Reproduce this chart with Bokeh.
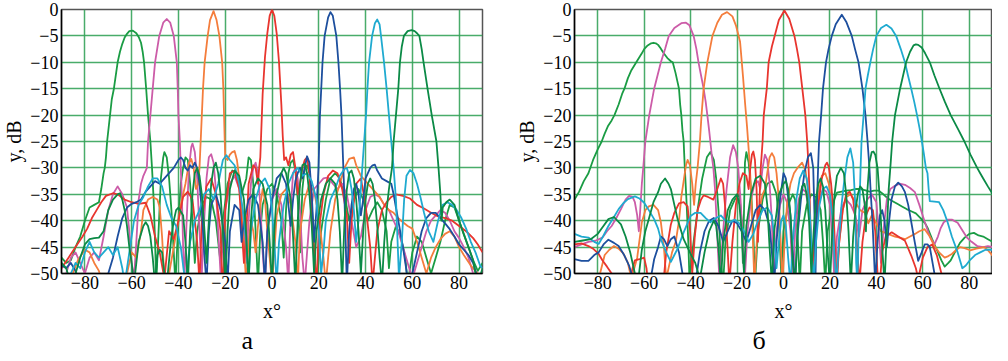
import math
from bokeh.plotting import figure
from bokeh.layouts import row
from bokeh.models import FixedTicker, Range1d, Title, CustomJSTickFormatter
from bokeh.embed import file_html
from bokeh.resources import INLINE

X_TICKS = [-80, -60, -40, -20, 0, 20, 40, 60, 80]
X_TICK_LABELS = ["\u221280", "\u221260", "\u221240", "\u221220", "0", "20", "40", "60", "80"]
Y_TICKS = [0, -5, -10, -15, -20, -25, -30, -35, -40, -45, -50]
Y_TICK_LABELS = ["0", "\u22125", "\u221210", "\u221215", "\u221220", "\u221225", "\u221230",
                 "\u221235", "\u221240", "\u221245", "\u221250"]
X_LABEL = "x\u00b0"
Y_LABEL = "y, dB"
PANEL_LABELS = ["\u0430", "\u0431"]

# ---------------- panel a : (angle deg, level dB) ----------------
A_GREEN1 = [(-90,-47),(-88,-48),(-86,-47.5),(-84,-45),(-82,-43),(-80,-40),(-78,-37.5),(-76,-37),(-74,-36.5),(-73,-34),(-72,-31),(-71.5,-30),(-71,-28),(-70.5,-25),(-69.5,-21),(-68.5,-17),(-67.6,-15),(-66,-10),(-65,-8),(-64,-6.5),(-63,-5.3),(-62,-4.6),(-61,-4.1),(-59.5,-4),(-58,-4.5),(-57,-5.2),(-56,-6.3),(-55.3,-8),(-54.7,-10),(-53.8,-15),(-53,-20),(-52,-25),(-51.3,-30),(-50.6,-36),(-50,-44),(-49.5,-52),(-48.5,-42),(-47.5,-32),(-46.5,-28),(-46,-27),(-45,-28),(-44,-32),(-43,-38),(-42,-46),(-41.3,-52),(-40,-40),(-39,-33),(-38,-30),(-37,-28),(-36,-28.5),(-35,-33),(-34,-40),(-33,-48),(-32,-42),(-30,-37),(-28,-35.5),(-26,-36),(-24,-40),(-22,-48),(-21,-40),(-19,-33),(-17,-30.5),(-15,-31),(-13,-35),(-11,-32),(-10,-28),(-9,-28.5),(-8,-33),(-7,-42),(-6,-52),(-5,-42),(-4,-37),(-2,-34),(0,-33),(2,-35),(4,-40),(5,-47),(6,-38),(7,-31),(8,-29),(9,-28.5),(10,-30.5),(11,-36),(12,-46),(13,-34),(14,-30),(15,-29.5),(16,-31),(17,-37),(18,-45),(19,-52),(21,-42),(23,-36),(25,-32),(27,-31),(29,-32),(31,-35),(33,-40),(35,-36),(37,-34),(39,-36),(41,-40),(43,-38),(45,-36.5),(47,-38),(49,-42),(50,-49),(51,-44),(53,-41),(55,-43),(57,-47),(58,-52),(60,-46),(62,-43),(64,-44),(66,-47),(68,-50),(70,-47),(72,-44),(74,-40),(76,-37),(78,-37.5),(80,-40),(82,-42.5),(84,-45),(86,-47.5),(88,-49.5),(90,-48)]

A_MAGENTA = [(-90,-52),(-88,-50),(-86,-47),(-84,-46),(-82,-48),(-80,-50),(-78,-47),(-76,-46),(-74,-47.5),(-72,-43),(-70,-38),(-68,-35),(-66,-33.5),(-64,-35),(-62,-37.5),(-61,-42),(-60,-48),(-59,-51),(-58,-44),(-57,-36),(-56,-33),(-55,-31.5),(-54,-30.5),(-53.5,-30),(-53,-25),(-52,-20),(-51,-15),(-50,-10),(-48.2,-5),(-46.5,-2.5),(-45,-1.8),(-43.5,-2.5),(-42,-5),(-40.7,-10),(-40.3,-15),(-40,-20),(-39.4,-25),(-39,-30),(-38.5,-36),(-38,-45),(-37.5,-52),(-36.5,-40),(-35.5,-30),(-34.5,-26),(-34,-25.4),(-33,-27),(-32,-32),(-31,-42),(-30,-50),(-29,-40),(-28,-32),(-27,-28),(-26,-27.4),(-25,-29),(-24,-34),(-23,-42),(-22,-50),(-20,-38),(-18,-33),(-16,-31.5),(-14,-34),(-12,-40),(-11,-48),(-10,-40),(-9,-33),(-8,-30),(-7,-29),(-6,-31),(-5,-37),(-4,-46),(-3,-52),(-2,-42),(0,-36),(2,-34),(4,-37),(6,-45),(7,-52),(8,-38),(9,-31),(10,-30),(11,-32),(12,-38),(13,-47),(14,-52),(16,-40),(18,-34),(20,-33),(22,-32),(24,-31.8),(26,-33),(28,-34),(30,-33),(32,-35),(34,-40),(36,-45),(38,-43),(40,-38),(42,-35.5),(44,-35),(46,-35.5),(48,-37),(50,-38),(52,-40),(54,-42),(56,-45),(58,-48),(60,-51),(62,-48),(64,-45),(66,-42),(68,-40),(70,-39),(72,-38),(74,-38.5),(76,-40),(78,-42),(80,-43.3),(82,-45),(84,-47),(86,-50),(88,-52),(90,-51)]

A_ORANGE = [(-90,-52),(-86,-51),(-83,-47.5),(-80,-45.5),(-78,-46),(-76,-48),(-74,-49.5),(-72,-53),(-66,-55),(-62,-50),(-60,-46),(-58,-47),(-56,-42),(-55,-38),(-53,-36),(-51,-35.5),(-49,-36),(-48,-37.5),(-47,-43),(-46,-51),(-44,-50),(-42,-45),(-40,-40),(-39,-37),(-37,-33),(-35.5,-29),(-34.5,-28.3),(-33.5,-30),(-32.5,-34),(-31.5,-33),(-31,-30),(-30.5,-25),(-30,-20),(-29.5,-15),(-28.8,-10),(-27.5,-5),(-26.5,-2),(-25,-0.3),(-23.7,-2),(-22.5,-5),(-21.3,-10),(-20.8,-15),(-20.5,-20),(-20.2,-25),(-20,-28),(-19,-28.5),(-18,-27.5),(-17,-27),(-16,-26.8),(-15,-28.5),(-14,-32),(-13,-38),(-12,-45),(-11,-52),(-10,-44),(-9,-40),(-8,-42),(-7,-46),(-6,-41),(-5,-37),(-4,-34),(-3,-36),(-2,-42),(-1,-47),(0,-52),(1,-46),(2,-39),(4,-35),(6,-34),(8,-37),(10,-44),(11,-52),(12,-42),(14,-36),(16,-33),(18,-34.5),(20,-39),(22,-47),(23,-52),(25,-42),(27,-36),(29,-33),(31,-30),(33,-28.3),(35,-28),(36,-29.5),(38,-31.5),(40,-32.5),(42,-33.5),(44,-34.5),(46,-35.5),(48,-37),(50,-38),(52,-38.5),(54,-39.5),(56,-40.3),(58,-41),(60,-41.5),(62,-44),(64,-47),(66,-50),(68,-47),(70,-45),(72,-43.5),(74,-42.5),(76,-42),(78,-43),(80,-45),(82,-46.5),(85,-48.5),(88,-50),(90,-51)]

A_RED = [(-90,-49),(-87,-47),(-84,-45),(-81,-43),(-79,-41.5),(-77,-39.5),(-75,-38),(-73,-36.5),(-71,-35.3),(-68,-34.8),(-66,-35),(-63,-36),(-60,-36.5),(-57,-36.8),(-54,-36.6),(-52,-39),(-50,-43),(-48,-46),(-46,-51),(-44,-42),(-42,-43.5),(-40,-40),(-38,-35.5),(-36,-34.5),(-34,-36),(-32,-44),(-31,-52),(-30,-40),(-28,-33.5),(-26,-32),(-24,-35),(-22,-42),(-21,-55),(-20,-38),(-18,-31),(-16,-30.5),(-14,-34),(-12,-48),(-11,-42),(-10,-33),(-8,-29.5),(-7,-30),(-6,-33),(-5.5,-30),(-5,-28),(-4.5,-22),(-4,-16),(-3,-9),(-2,-4.5),(-1,-1.2),(0,0),(1,-1.2),(2,-4.5),(3,-10),(4,-18),(4.6,-24),(5.2,-28.5),(6,-28),(7,-29.5),(8,-27.5),(9,-27),(10,-30),(11,-35),(12,-33),(13,-30),(14,-28.5),(15,-28),(16,-31),(17,-38),(18,-46),(19,-52),(20,-42),(22,-35),(24,-31.5),(26,-30.5),(28,-31),(30,-34),(32,-39),(33,-48),(34,-40),(36,-33),(38,-32),(40,-37),(42,-45),(43,-52),(45,-42),(47,-38),(49,-36.5),(51,-35.5),(53,-35),(56,-35.3),(59,-35.8),(62,-37),(65,-37.7),(68,-38.5),(71,-39.2),(74,-39.5),(77,-40),(80,-41),(83,-42),(86,-43.3),(88,-44.5),(90,-46)]

A_BLUE = [(-90,-48.5),(-88,-49),(-86,-48),(-84,-49.5),(-82,-52),(-72,-53),(-70,-50),(-68,-47),(-66,-43),(-64,-39.5),(-62,-37.5),(-60,-36.8),(-58,-36.5),(-56,-36),(-54,-34.5),(-52,-33.5),(-50,-32.5),(-48,-33),(-46,-32),(-44,-31),(-42,-30),(-40,-28.5),(-39,-28),(-38,-28.5),(-37,-30),(-36,-30.5),(-35,-29.5),(-34,-30),(-33,-29),(-32,-30),(-31,-33),(-30,-38),(-29,-46),(-28,-52),(-27,-42),(-26,-37),(-24,-35),(-22,-38),(-20,-44),(-19,-52),(-18,-42),(-16,-37),(-14,-38),(-13,-44),(-12,-40),(-10,-36),(-8,-35),(-6,-37),(-4,-44),(-3,-52),(-2,-42),(0,-36),(2,-32),(4,-31),(6,-33),(7,-37),(8,-41),(9,-36),(10,-32.5),(11,-31),(12,-30),(13,-32),(14,-30),(15,-27.8),(16,-29),(17,-35),(18,-44),(19,-38),(19.9,-30),(20.5,-20),(21.6,-10),(22.5,-5),(24,-1.5),(25,-0.5),(26,-1.2),(27.5,-5),(28.4,-10),(29.1,-15),(29.7,-20),(30.1,-25),(30.5,-30),(31,-36),(31.5,-44),(32,-52),(33,-42),(34,-37),(35,-34),(36,-33),(37,-35),(38,-39),(39,-36),(40,-32),(42,-30),(43,-29.5),(44,-29.4),(45,-30.5),(47,-32),(49,-32.5),(51,-33),(52,-35),(53,-37.5),(54,-40),(55,-42.5),(56,-45),(57,-48),(58,-51),(60,-50),(62,-46),(64,-42),(66,-39.5),(68,-38.5),(70,-38.5),(72,-39.5),(74,-40.5),(76,-41.6),(78,-43),(80,-44.5),(82,-45.5),(84,-46.5),(86,-48),(88,-51),(90,-52)]

A_CYAN = [(-90,-50),(-88,-51),(-86,-50),(-84,-48),(-82,-49),(-80,-46),(-78,-44),(-76,-46),(-74,-47),(-72,-46),(-70,-45),(-68,-46.5),(-66,-45),(-64,-49),(-63,-52),(-61,-46),(-59,-40),(-57,-37),(-55,-35.5),(-53,-33.5),(-51,-32),(-49,-32),(-47,-33.5),(-45,-37),(-43,-39.5),(-41,-41),(-39,-45),(-37,-52),(-35,-44),(-33,-40),(-31,-38),(-29,-35),(-27,-34),(-25,-36),(-23,-33),(-21,-28.5),(-19.5,-27.6),(-18,-28.5),(-16,-29.5),(-14,-33),(-12.5,-38),(-11,-44),(-10,-52),(-9,-42),(-7,-36),(-5,-33),(-3,-32),(-1,-34),(0,-38),(1,-44),(2,-52),(3,-44),(5,-37),(7,-33),(9,-31),(11,-30),(13,-31.5),(15,-31),(17,-32.5),(19,-36),(20,-42),(21,-50),(22,-46),(23,-40),(25,-36),(27,-34),(29,-31.5),(31,-30.2),(32,-30),(33,-31.5),(34,-34),(35,-38),(36,-44),(37,-40),(38,-34),(38.6,-30),(39.4,-25),(40.2,-20),(40.8,-15),(41.5,-10),(42.8,-5),(44,-2.6),(45,-1.9),(46,-2.8),(46.6,-5),(47.9,-10),(49,-15),(50,-20),(51,-25),(52,-30),(53,-36),(53.7,-44),(54.3,-51),(55.5,-44),(56.5,-36),(57.5,-31.5),(59,-30.4),(60.5,-31),(62,-33),(63.5,-35.6),(65,-38.5),(67,-42),(69,-44),(71,-40),(73,-37),(75,-36.5),(77,-37),(79,-38),(81,-39.5),(83,-41.5),(85,-44),(87,-46),(89,-48.5),(90,-49)]

A_GREEN2 = [(-90,-48),(-88,-49),(-86,-52),(-84,-50),(-82,-47),(-80,-44.5),(-78,-43.5),(-76,-43.3),(-74,-43.2),(-72,-42),(-70,-38),(-68,-36),(-66,-35),(-65,-34.8),(-64,-36),(-63,-38),(-62,-41),(-61,-45),(-60,-48),(-59,-52),(-57,-44),(-55,-41),(-54,-40.3),(-53,-41),(-52,-43),(-51,-47),(-50,-52),(-49,-46.5),(-48,-45.5),(-47,-46),(-46,-50),(-45,-52),(-43,-43),(-42,-40),(-41,-38),(-40,-37.5),(-38,-39),(-37,-44),(-36,-52),(-35,-42),(-34,-35),(-33,-31),(-32,-30),(-31,-31.5),(-30,-35),(-29,-41),(-28,-48),(-27,-40),(-26,-33),(-25,-30),(-24,-29),(-23,-31),(-22,-35),(-21,-42),(-20,-52),(-19,-42),(-18,-34),(-16,-30.5),(-14,-31.5),(-12,-36),(-11,-43),(-10,-52),(-9,-40),(-8,-34),(-6,-32),(-4,-33),(-2,-37),(-1,-44),(0,-52),(1,-42),(2,-35),(4,-31),(5,-30),(6,-31),(8,-36),(9,-43),(10,-52),(11,-40),(12,-33),(13,-29.5),(14,-29.2),(15,-31),(16,-35),(17,-41),(18,-50),(19,-42),(21,-36),(23,-33),(25,-32),(27,-33),(28,-36),(29,-42),(30,-52),(31,-40),(32,-34),(33,-31),(34,-30.5),(35,-32),(36,-36),(37,-42),(38,-50),(39,-42),(40,-36),(41,-33),(42,-32),(43,-33),(44,-36),(45,-41),(46,-47),(47,-52),(48,-44),(49,-38),(50,-34),(51.3,-30),(52,-25),(53,-20),(54,-15),(54.7,-10),(55.5,-7),(56.4,-5),(58,-4.1),(59.7,-3.9),(61,-4.1),(62,-4.5),(63,-5),(64,-7.5),(64.8,-10),(66.5,-15),(68.3,-20),(70.3,-25),(71.2,-30),(72,-35),(72.5,-40),(73,-37.5),(74.5,-36.5),(76,-36),(78,-37),(80,-40),(82,-42.6),(84,-45),(86,-47.5),(87,-50),(88,-52),(90,-49)]

# ---------------- panel б ----------------
B_GREEN1 = [(-90,-36),(-88,-34.5),(-86,-32.5),(-84,-31),(-82,-28.5),(-80,-26.5),(-78.3,-25),(-77,-23.5),(-75.5,-22),(-74,-21),(-72.8,-20),(-71,-18),(-69.5,-16),(-68.5,-15),(-67,-13),(-65.5,-11.5),(-63.4,-10),(-62,-9),(-61,-8.3),(-60,-7.5),(-58.5,-6.8),(-57,-6.4),(-56,-6.3),(-55,-6.4),(-54,-6.7),(-53,-7.3),(-52,-8),(-51,-8.6),(-50,-9.2),(-48.5,-9.8),(-47.7,-10),(-46.5,-12),(-45.5,-14),(-45,-15),(-44.5,-18),(-44,-20),(-43.5,-23),(-43,-25),(-42.5,-30),(-41.8,-36),(-41,-44),(-40.5,-51),(-39,-45),(-37,-38),(-35,-32),(-33,-28),(-31.5,-27),(-30,-28.5),(-29,-32),(-28,-38),(-27,-48),(-26,-52),(-25,-44),(-23,-38),(-21,-36),(-19,-35),(-18,-40),(-17.5,-48),(-17,-38),(-16.6,-29),(-16,-27),(-15,-29),(-14,-34),(-13,-42),(-12.3,-52),(-11,-42),(-9,-36),(-7,-33),(-5,-32.5),(-3,-35),(-2,-40),(-1,-50),(0,-42),(2,-37),(4,-35),(5,-36),(6,-42),(7,-52),(8,-42),(10,-37),(12,-35),(14,-35.5),(16,-38),(17,-44),(18,-52),(19,-42),(21,-37),(23,-34.7),(25,-34.5),(27,-34.3),(29,-34.2),(31,-34),(33,-34),(35,-34.2),(37,-34.5),(39,-34.3),(41,-34.3),(43,-35),(45,-35.8),(47,-36.3),(49,-36.8),(51,-37.3),(53,-37.8),(55,-38.2),(57,-38.6),(59,-39.5),(61,-40.5),(62,-41.3),(64,-43.5),(66,-45.5),(68,-47.5),(69.4,-48.7),(71,-48),(72,-47.5),(74,-45.8),(76,-44.2),(78,-43.2),(80,-42.5),(82,-42.3),(84,-42.8),(86,-43),(88,-43.5),(90,-44)]

B_MAGENTA = [(-90,-45),(-87,-44.5),(-84,-44),(-81,-43.8),(-78,-43.2),(-76,-42),(-74,-41),(-72,-39.5),(-70,-37.8),(-68,-36),(-66.5,-35.3),(-65,-35.5),(-64,-36.5),(-63,-39),(-62.3,-42),(-61.7,-38),(-61,-33),(-60.4,-30),(-59.5,-25),(-57.8,-20),(-55.7,-15),(-52.8,-10),(-51,-7.5),(-49.4,-5),(-47,-3.5),(-44,-2.6),(-42,-2.5),(-40.5,-3),(-38.7,-5),(-37.5,-7.5),(-36.6,-10),(-35.5,-12.5),(-34.4,-15),(-33.5,-17.5),(-32.8,-20),(-32,-23),(-31.5,-25),(-30.8,-28),(-30.2,-30),(-29.5,-34),(-28.8,-40),(-28.3,-45),(-27.5,-52),(-26,-42),(-24.5,-34),(-23,-28),(-21.7,-25.7),(-20.5,-27),(-19.5,-30),(-18.5,-36),(-17.5,-44),(-16.8,-52),(-15.5,-42),(-14,-36),(-12.5,-33),(-11,-32.5),(-10,-34),(-9,-30),(-8,-27.5),(-7,-28.5),(-6,-33),(-5,-40),(-4.3,-52),(-3,-42),(-1.5,-37),(0,-35),(1.5,-36.5),(3,-42),(4,-52),(5,-42),(6.5,-36),(8,-34),(9.5,-34.5),(11,-38),(12,-46),(12.8,-52),(14,-42),(15.5,-36),(17,-34),(18.5,-34.5),(20,-37),(21,-43),(22,-52),(23,-43),(25,-37.5),(27,-36),(29,-37),(31,-39),(32.5,-43),(34,-38),(36,-36),(38,-35),(40,-36.5),(41,-42),(42,-48),(43,-42),(44.5,-36),(46,-34),(48,-33.4),(50,-33),(52.3,-33.2),(54.5,-33.8),(56.6,-34.6),(58.5,-37),(60.8,-40.2),(63,-43),(65,-44.5),(66.5,-43),(67.7,-41.4),(69,-40.3),(70.6,-39.8),(72.5,-39.8),(75,-40.4),(77,-41.8),(79,-43.2),(81,-44),(83.4,-44.8),(86,-45),(88,-44.8),(90,-45)]

B_ORANGE = [(-90,-52),(-82,-53),(-79,-50),(-77,-46.5),(-75,-45.5),(-73,-44.8),(-71,-45.3),(-69,-46.2),(-67,-48),(-65.5,-51),(-63,-47),(-61,-40.3),(-59.5,-38),(-58,-37.3),(-56,-37),(-54,-38),(-52.8,-40.3),(-51.5,-45),(-50.5,-51),(-48,-46),(-46.4,-44),(-45,-40),(-44,-35.5),(-43,-32.5),(-42,-29.5),(-41.3,-28.5),(-40.3,-29.5),(-39.3,-33),(-38.5,-37),(-37.8,-33),(-37,-30),(-36,-25),(-35.3,-20),(-34.4,-15),(-32.8,-10),(-31.7,-7.5),(-30.6,-5),(-28.5,-2.5),(-26.5,-1),(-24.3,-0.5),(-22,-1.3),(-20.5,-3),(-18.7,-6.1),(-17.4,-12.9),(-16.5,-18),(-15.7,-22.2),(-15,-26.5),(-14.5,-29.7),(-14,-34),(-13.5,-40),(-13,-46),(-12.5,-52),(-11.5,-44),(-10.5,-38),(-9,-35),(-8,-34),(-7,-31),(-6,-28),(-5,-27.2),(-4,-28),(-3,-31),(-2,-36),(-1.2,-44),(-0.5,-52),(0.5,-44),(1.5,-37),(3,-33),(4.5,-31),(6,-30),(8,-29),(9.5,-30.5),(10.5,-34),(11.5,-40),(12.5,-50),(13.5,-42),(15,-35),(16.5,-31.5),(18,-31),(19.5,-33),(21,-38),(22,-45),(22.8,-52),(24,-44),(25.5,-38),(27,-35.5),(29,-35),(31,-36.5),(33,-38),(35,-38.5),(36.5,-40.5),(38,-39),(40,-40.5),(42,-42),(44,-42.3),(46,-42.7),(48,-43),(50,-43.2),(52.3,-43.5),(54.5,-43),(56.6,-42.5),(58.5,-42),(60.8,-41.6),(63,-43),(65,-44.8),(67,-46),(69.4,-47),(71,-46.7),(72.5,-46.3),(74.5,-45.5),(76,-45),(78,-45.2),(80.4,-45.6),(83,-45.3),(86.4,-45),(88,-45.6),(90,-46.6)]

B_RED = [(-90,-44.5),(-87,-44.3),(-84,-44.8),(-82,-45.3),(-79.6,-46.3),(-78,-47.5),(-76,-48.7),(-74,-50),(-72,-53),(-67,-53),(-65,-49),(-64,-47.5),(-62,-47.3),(-60,-47),(-59,-49),(-58,-53),(-52,-53),(-50.5,-46),(-48.5,-40.7),(-47,-38.5),(-45,-36.7),(-43,-36.5),(-41.3,-37.3),(-40.2,-42),(-39.3,-50),(-38.2,-43),(-37,-38),(-35.5,-36),(-34.4,-35.2),(-32.5,-35.5),(-30.2,-36),(-28.5,-34),(-27,-32),(-26,-33),(-25,-38),(-24,-46),(-23.3,-52),(-22,-44),(-20.5,-37),(-19,-33),(-17.5,-31),(-16,-31.5),(-15,-34),(-14.3,-30),(-13.6,-27.5),(-13,-26.9),(-12.3,-28.5),(-11.6,-34),(-11,-44),(-10.5,-38),(-9.8,-30),(-9,-25),(-8.5,-20),(-7.2,-15),(-6.4,-10),(-5,-7),(-3.8,-5),(-2,-2),(0.4,-0.2),(2.5,-1.8),(4.7,-5),(5.8,-7.5),(6.8,-10),(8.1,-15),(9.4,-20),(10.2,-25),(10.8,-30),(11.3,-36),(11.8,-44),(12.3,-52),(13.5,-43),(15,-37),(16.5,-32),(18,-29.5),(18.7,-29),(19.5,-29.8),(20.5,-33),(21.5,-38),(22.3,-46),(23,-52),(24,-44),(25.5,-38),(27,-35),(28.5,-34.5),(30,-36),(31,-40),(32,-47),(32.7,-52),(34,-44),(35.5,-39),(37,-37.5),(38.5,-38),(39.5,-42),(40.5,-50),(41.3,-53),(42.5,-46),(44,-43),(46.6,-42.2),(49.4,-43),(52.3,-43.8),(55,-46.6),(57,-49),(58,-51),(60,-47),(62,-45),(64,-44.5),(66,-46.5),(68,-50),(70,-53),(90,-53)]

B_BLUE = [(-90,-47.3),(-87,-47.6),(-84,-47.6),(-81.5,-46.5),(-79.6,-46),(-77.5,-44.5),(-75.4,-43.6),(-73,-44.2),(-71,-44.8),(-68.5,-46.6),(-66.5,-48.5),(-65.5,-50),(-64,-53),(-58,-53),(-55.7,-47.3),(-54,-45),(-52.8,-43),(-51.5,-43.5),(-50,-44.8),(-48.5,-43.5),(-47,-43),(-45,-46),(-43.5,-50),(-42.5,-53),(-38,-52),(-36,-46),(-34,-42),(-32,-40),(-30,-39.5),(-28,-41),(-26,-44),(-24,-42),(-22,-40),(-20,-40.5),(-18,-42),(-16,-44),(-14,-41),(-12,-38),(-10,-37),(-8,-38),(-6,-41),(-5,-46),(-4,-52),(-3,-44),(-1.5,-36),(0,-31),(1,-32),(2,-35.5),(3,-39),(4,-46),(5,-52),(6,-43),(7.5,-36),(9,-31),(10.5,-28),(11.8,-27.2),(12.8,-30),(13.4,-40),(13.8,-50),(14.3,-38),(14.9,-30),(15.3,-25),(16.2,-20),(17,-15),(18.3,-10),(19.4,-7.5),(20.8,-5),(22.5,-2.8),(25.1,-1),(27,-2.3),(29.4,-5),(30.8,-7.5),(32.3,-10),(34,-15),(35.3,-20),(36.2,-25),(37,-30),(37.6,-35),(38.3,-40),(38.9,-46),(39.5,-52),(40.5,-44),(41.5,-39),(42.5,-38),(43.5,-40),(44.5,-45),(45.5,-40),(46.5,-36),(48,-33.5),(49.4,-32.8),(51,-33.5),(52.3,-34.6),(53.7,-37),(55,-40.2),(56.5,-44),(58,-47.6),(59.5,-46),(60.8,-44.5),(62,-44.5),(63,-45),(64,-47.5),(65,-50),(66,-53),(90,-53)]

B_CYAN = [(-90,-42.5),(-87,-43),(-84,-43.2),(-81.5,-44),(-79.6,-44.4),(-77.5,-42.8),(-75.4,-41),(-73,-39.3),(-71,-37.8),(-69,-36.7),(-67,-35.9),(-64,-35.4),(-62,-35.8),(-60,-36.6),(-58,-38),(-55.7,-39.7),(-54,-41.5),(-52.8,-43.5),(-50.5,-46),(-48.5,-47.8),(-47,-46.5),(-45.6,-45.3),(-43,-42.2),(-40,-39.1),(-38,-38.5),(-35.7,-38.5),(-33.5,-39.5),(-31.5,-40.3),(-29,-39.5),(-27,-39),(-25,-40),(-23,-40.3),(-21,-39.8),(-19,-40.5),(-17,-42),(-15,-44),(-13,-42.5),(-11,-40),(-9,-38),(-7,-37.5),(-5,-39),(-4,-43),(-3,-49),(-2,-44),(-1,-40),(0,-39),(1,-41),(2,-47),(3,-52),(4,-44),(5.5,-36),(7,-32),(8.5,-30.5),(10,-32),(11,-36),(12,-44),(13,-52),(14,-44),(15.5,-37),(17,-34),(18.5,-33.5),(20,-35),(21,-39),(22,-47),(22.8,-52),(24,-43),(25,-37),(26,-33),(27.5,-28),(28.8,-26.3),(30,-29),(30.8,-36),(31.3,-48),(31.8,-52),(32.5,-40),(33.2,-30),(33.6,-25),(34.5,-20),(35.3,-15),(36.3,-12.5),(37.4,-10),(38.6,-7.5),(40,-5),(42,-3.5),(44.3,-2.9),(46.5,-3.6),(48.5,-5),(50.5,-7.5),(52.3,-10),(53.6,-12.5),(55,-15),(56.3,-17.5),(57.5,-20),(58.6,-22.5),(59.6,-25),(60.5,-27.5),(61.3,-30),(62,-31),(62.5,-34),(63,-36.3),(65,-36.4),(67,-36.5),(68.8,-38),(70.6,-40.2),(72.5,-43),(75,-46),(77,-49),(78.5,-48.5),(80.4,-47.4),(82.5,-46.5),(84.7,-46),(87,-45.5),(90,-45.5)]

B_GREEN2 = [(-90,-44),(-87,-43.8),(-83,-43.5),(-80,-42.5),(-78,-41.3),(-75.4,-39.7),(-73,-39.3),(-70,-40.7),(-68,-43),(-66,-46),(-64,-50),(-63,-53),(-61,-45.5),(-59.5,-42),(-58,-39.7),(-56,-36.5),(-54,-34.6),(-52.8,-33),(-51,-32),(-49.5,-33),(-48.5,-34),(-47,-37),(-45.6,-39.7),(-43,-43.5),(-40,-46.3),(-38,-48),(-36,-51),(-34,-46),(-32,-42),(-30,-40),(-29,-41),(-28,-45),(-27,-52),(-26,-44),(-24,-38),(-22,-36),(-20,-35),(-19,-37),(-18,-42),(-17,-50),(-16,-41),(-14,-35),(-12,-32),(-10,-31.5),(-8,-33),(-7,-37),(-6,-45),(-5,-52),(-4,-42),(-2,-35),(0,-33),(1,-32.5),(2,-34),(3,-39),(4,-48),(5,-52),(6,-42),(7,-36),(8,-33.5),(9,-33),(10,-35),(11,-40),(12,-50),(13,-42),(14,-36),(15,-33),(16,-32),(17,-33.5),(18,-38),(19,-46),(20,-52),(21,-42),(22,-35),(23,-31.5),(24.7,-30),(26,-31),(27,-35),(28,-42),(29,-52),(30,-43),(31,-38),(32,-35),(33,-33.5),(34,-34),(35,-37),(35.5,-42),(36,-35),(37,-29),(38,-27),(38.7,-26.9),(39.5,-27.5),(40.5,-30),(41.5,-36),(42.5,-45),(43.5,-52),(44.5,-42),(45.3,-34),(46,-30),(46.8,-25),(48,-20),(50.2,-15),(52.8,-10),(54.5,-8),(56,-6.8),(57,-6.6),(58,-6.7),(59.5,-7.2),(61,-8.3),(63,-10),(65,-12.5),(67.2,-15),(69.5,-17.5),(72,-20),(75,-22.5),(77.9,-25),(80.5,-27.5),(83.4,-30),(84.7,-31),(86,-32),(88,-33.5),(90,-34.9)]

GREEN1 = "#1a9c44"
GREEN2 = "#0b8a46"
MAGENTA = "#cc5ca8"
ORANGE = "#f47d3c"
RED = "#e8352e"
BLUE = "#1d4f9e"
CYAN = "#1faad0"

PANEL_A = [(A_GREEN1, GREEN1), (A_MAGENTA, MAGENTA), (A_ORANGE, ORANGE), (A_RED, RED),
           (A_BLUE, BLUE), (A_CYAN, CYAN), (A_GREEN2, GREEN2)]
PANEL_B = [(B_GREEN1, GREEN1), (B_MAGENTA, MAGENTA), (B_ORANGE, ORANGE), (B_RED, RED),
           (B_BLUE, BLUE), (B_CYAN, CYAN), (B_GREEN2, GREEN2)]

FONT = "Liberation Serif"

TICK_JS = "const i = tvals.indexOf(tick); return i >= 0 ? tlabels[i] : '';"


def make_panel(curves, width, border_left, border_right, panel_label, label_offset):
    p = figure(width=width, height=353, x_range=Range1d(-90, 90), y_range=Range1d(-50, 0),
               output_backend="svg", toolbar_location=None,
               min_border_left=border_left, min_border_right=border_right,
               min_border_top=9, min_border_bottom=70)
    p.background_fill_color = "white"
    p.border_fill_color = "white"
    p.outline_line_color = "#555555"
    p.outline_line_width = 1.5

    p.xaxis.ticker = FixedTicker(ticks=X_TICKS)
    p.xaxis.formatter = CustomJSTickFormatter(args=dict(tvals=X_TICKS, tlabels=X_TICK_LABELS),
                                              code=TICK_JS)
    p.yaxis.ticker = FixedTicker(ticks=Y_TICKS)
    p.yaxis.formatter = CustomJSTickFormatter(args=dict(tvals=Y_TICKS, tlabels=Y_TICK_LABELS),
                                              code=TICK_JS)
    for ax in (p.xaxis[0], p.yaxis[0]):
        ax.axis_line_color = "black"
        ax.axis_line_width = 1.5
        ax.major_tick_line_color = None
        ax.minor_tick_line_color = None
        ax.major_tick_out = 0
        ax.major_tick_in = 0
        ax.major_label_text_font = FONT
        ax.major_label_text_font_size = "18px"
        ax.major_label_text_font_style = "normal"
        ax.major_label_text_color = "black"
        ax.axis_label_text_font = FONT
        ax.axis_label_text_font_size = "20px"
        ax.axis_label_text_font_style = "normal"
        ax.axis_label_text_color = "black"
    p.xaxis.major_label_standoff = 2
    p.yaxis.major_label_standoff = 3
    p.xaxis.axis_label = X_LABEL
    p.yaxis.axis_label = Y_LABEL
    p.xaxis.axis_label_standoff = 8
    p.yaxis.axis_label_standoff = 2

    p.xgrid.ticker = FixedTicker(ticks=X_TICKS)
    p.ygrid.ticker = FixedTicker(ticks=Y_TICKS)
    for g in (p.xgrid[0], p.ygrid[0]):
        g.grid_line_color = "#35a35a"
        g.grid_line_width = 1.5
        g.grid_line_alpha = 0.9

    for pts, color in curves:
        xs = [q[0] for q in pts]
        ys = [q[1] for q in pts]
        p.line(xs, ys, line_color=color, line_width=1.8, line_join="round")

    p.add_layout(Title(text=panel_label, align="left", offset=label_offset, standoff=-2,
                       text_font=FONT, text_font_size="26px", text_font_style="normal",
                       text_color="black"), "below")
    return p


pa = make_panel(PANEL_A, 512, 57, 30, PANEL_LABELS[0], 180)
pb = make_panel(PANEL_B, 480, 62, 0, PANEL_LABELS[1], 178)
layout = row(pa, pb)

open("out.html", "w").write(file_html(layout, INLINE))
